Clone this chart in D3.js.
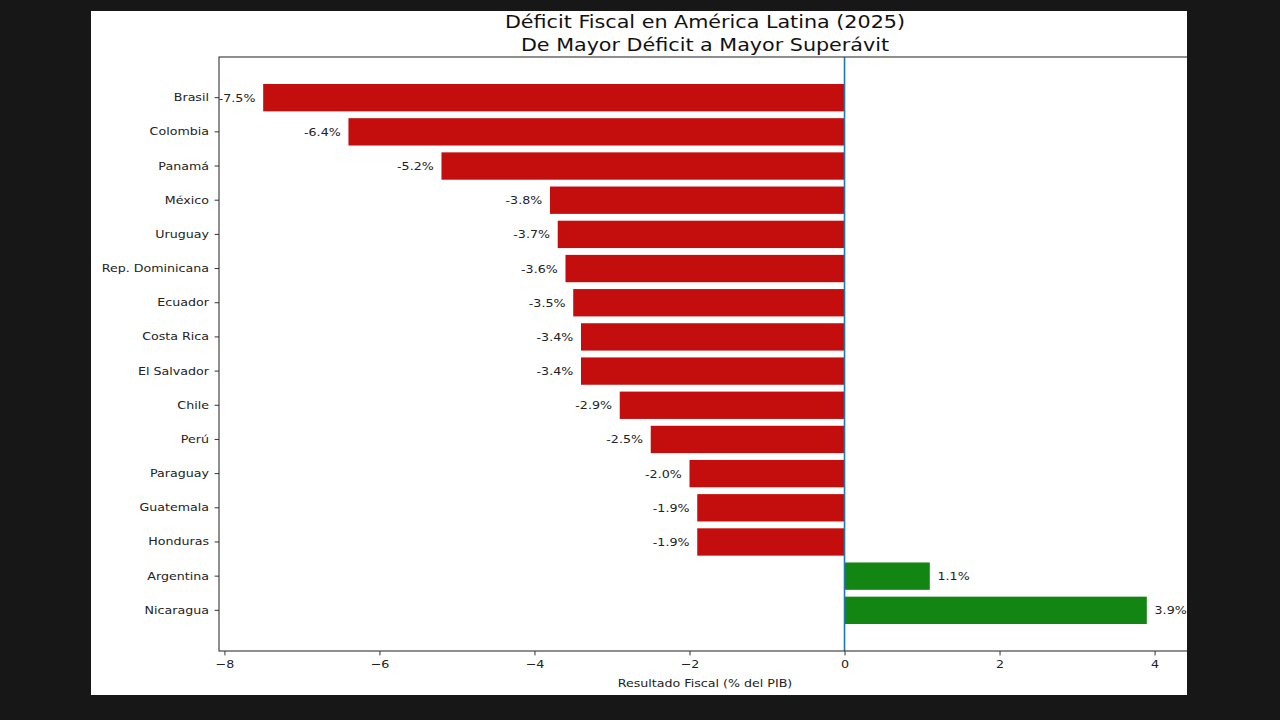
<!DOCTYPE html>
<html>
<head>
<meta charset="utf-8">
<script src="https://cdn.jsdelivr.net/npm/d3@7"></script>
<style>
  html, body { margin: 0; padding: 0; background: #171717; }
  svg { display: block; font-family: "DejaVu Sans", sans-serif; }
</style>
</head>
<body>
<div id="chart"></div>
<script>
// data
const countries = ["Brasil", "Colombia", "Panamá", "México", "Uruguay", "Rep. Dominicana",
  "Ecuador", "Costa Rica", "El Salvador", "Chile", "Perú", "Paraguay", "Guatemala",
  "Honduras", "Argentina", "Nicaragua"];
const balances = [-7.5, -6.4, -5.2, -3.8, -3.7, -3.6, -3.5, -3.4, -3.4, -2.9, -2.5, -2.0, -1.9, -1.9, 1.1, 3.9];
const xTicks = [-8, -6, -4, -2, 0, 2, 4];
const titleLines = ["Déficit Fiscal en América Latina (2025)", "De Mayor Déficit a Mayor Superávit"];
const xLabel = "Resultado Fiscal (% del PIB)";

const rows = countries.map((c, i) => ({ country: c, value: balances[i] }));

const width = 1280, height = 720;
// white figure area (the picture is cropped on the right)
const panel = { x: 91, y: 11, w: 1096, h: 684 };
// axes box
const plot = { left: 219, right: 1191, top: 57, bottom: 651 };
// the source image is stretched sideways, so text is widened too
const sx = 1.15;

const svg = d3.select("#chart").append("svg")
  .attr("width", width)
  .attr("height", height);

svg.append("defs").append("clipPath")
  .attr("id", "panelClip")
  .append("rect")
  .attr("x", panel.x).attr("y", panel.y)
  .attr("width", panel.w).attr("height", panel.h);

const fig = svg.append("g").attr("clip-path", "url(#panelClip)");

fig.append("rect")
  .attr("x", panel.x).attr("y", panel.y)
  .attr("width", panel.w).attr("height", panel.h)
  .attr("fill", "#ffffff");

// scales, with the 5% margin matplotlib adds
const ext = d3.extent(balances);
const pad = (ext[1] - ext[0]) * 0.05;
const xScale = d3.scaleLinear()
  .domain([ext[0] - pad, ext[1] + pad])
  .range([plot.left, plot.right]);

const yScale = d3.scaleBand()
  .domain(countries)
  .range([plot.top, plot.bottom])
  .paddingInner(0.2)
  .paddingOuter(0.79);

// bars
fig.append("g")
  .selectAll("rect")
  .data(rows)
  .enter()
  .append("rect")
  .attr("x", d => xScale(Math.min(0, d.value)))
  .attr("y", d => yScale(d.country))
  .attr("width", d => Math.abs(xScale(d.value) - xScale(0)))
  .attr("height", yScale.bandwidth())
  .attr("fill", d => d.value < 0 ? "#c40e0e" : "#138513");

// zero line
fig.append("line")
  .attr("x1", xScale(0)).attr("x2", xScale(0))
  .attr("y1", plot.top).attr("y2", plot.bottom)
  .attr("stroke", "#1f77b4")
  .attr("stroke-width", 1.6);

// value labels
fig.append("g")
  .selectAll("g")
  .data(rows)
  .enter()
  .append("g")
  .attr("transform", d => {
    const x = d.value < 0 ? xScale(d.value - 0.1) : xScale(d.value + 0.1);
    const y = yScale(d.country) + yScale.bandwidth() / 2;
    return `translate(${x},${y}) scale(${sx},1)`;
  })
  .append("text")
  .attr("dy", "0.36em")
  .attr("text-anchor", d => d.value < 0 ? "end" : "start")
  .attr("font-size", "11px")
  .attr("fill", "#222")
  .text(d => d.value.toFixed(1) + "%");

// axes
const xAxis = d3.axisBottom(xScale)
  .tickValues(xTicks)
  .tickSize(4.4)
  .tickPadding(4.5)
  .tickSizeOuter(0);

const yAxis = d3.axisLeft(yScale)
  .tickSize(4.4)
  .tickPadding(4.3)
  .tickSizeOuter(0);

const gx = fig.append("g")
  .attr("transform", `translate(0,${plot.bottom})`)
  .call(xAxis);

const gy = fig.append("g")
  .attr("transform", `translate(${plot.left},0)`)
  .call(yAxis);

[gx, gy].forEach(g => {
  g.select(".domain").remove();
  g.selectAll(".tick line").attr("stroke", "#333").attr("stroke-width", 1);
  g.selectAll(".tick text")
    .attr("fill", "#222")
    .attr("font-size", "11px")
    .attr("font-family", "DejaVu Sans, sans-serif")
    .attr("transform", `scale(${sx},1)`);
});

// spines
fig.append("rect")
  .attr("x", plot.left).attr("y", plot.top)
  .attr("width", plot.right - plot.left)
  .attr("height", plot.bottom - plot.top)
  .attr("fill", "none")
  .attr("stroke", "#333")
  .attr("stroke-width", 1.1);

// title
const cx = (plot.left + plot.right) / 2;
titleLines.forEach((t, i) => {
  fig.append("g")
    .attr("transform", `translate(${cx},${28 + i * 23}) scale(${sx},1)`)
    .append("text")
    .attr("text-anchor", "middle")
    .attr("font-size", "18px")
    .attr("fill", "#111")
    .text(t);
});

// x label
fig.append("g")
  .attr("transform", `translate(${cx},687) scale(${sx},1)`)
  .append("text")
  .attr("text-anchor", "middle")
  .attr("font-size", "11px")
  .attr("fill", "#222")
  .text(xLabel);
</script>
</body>
</html>
